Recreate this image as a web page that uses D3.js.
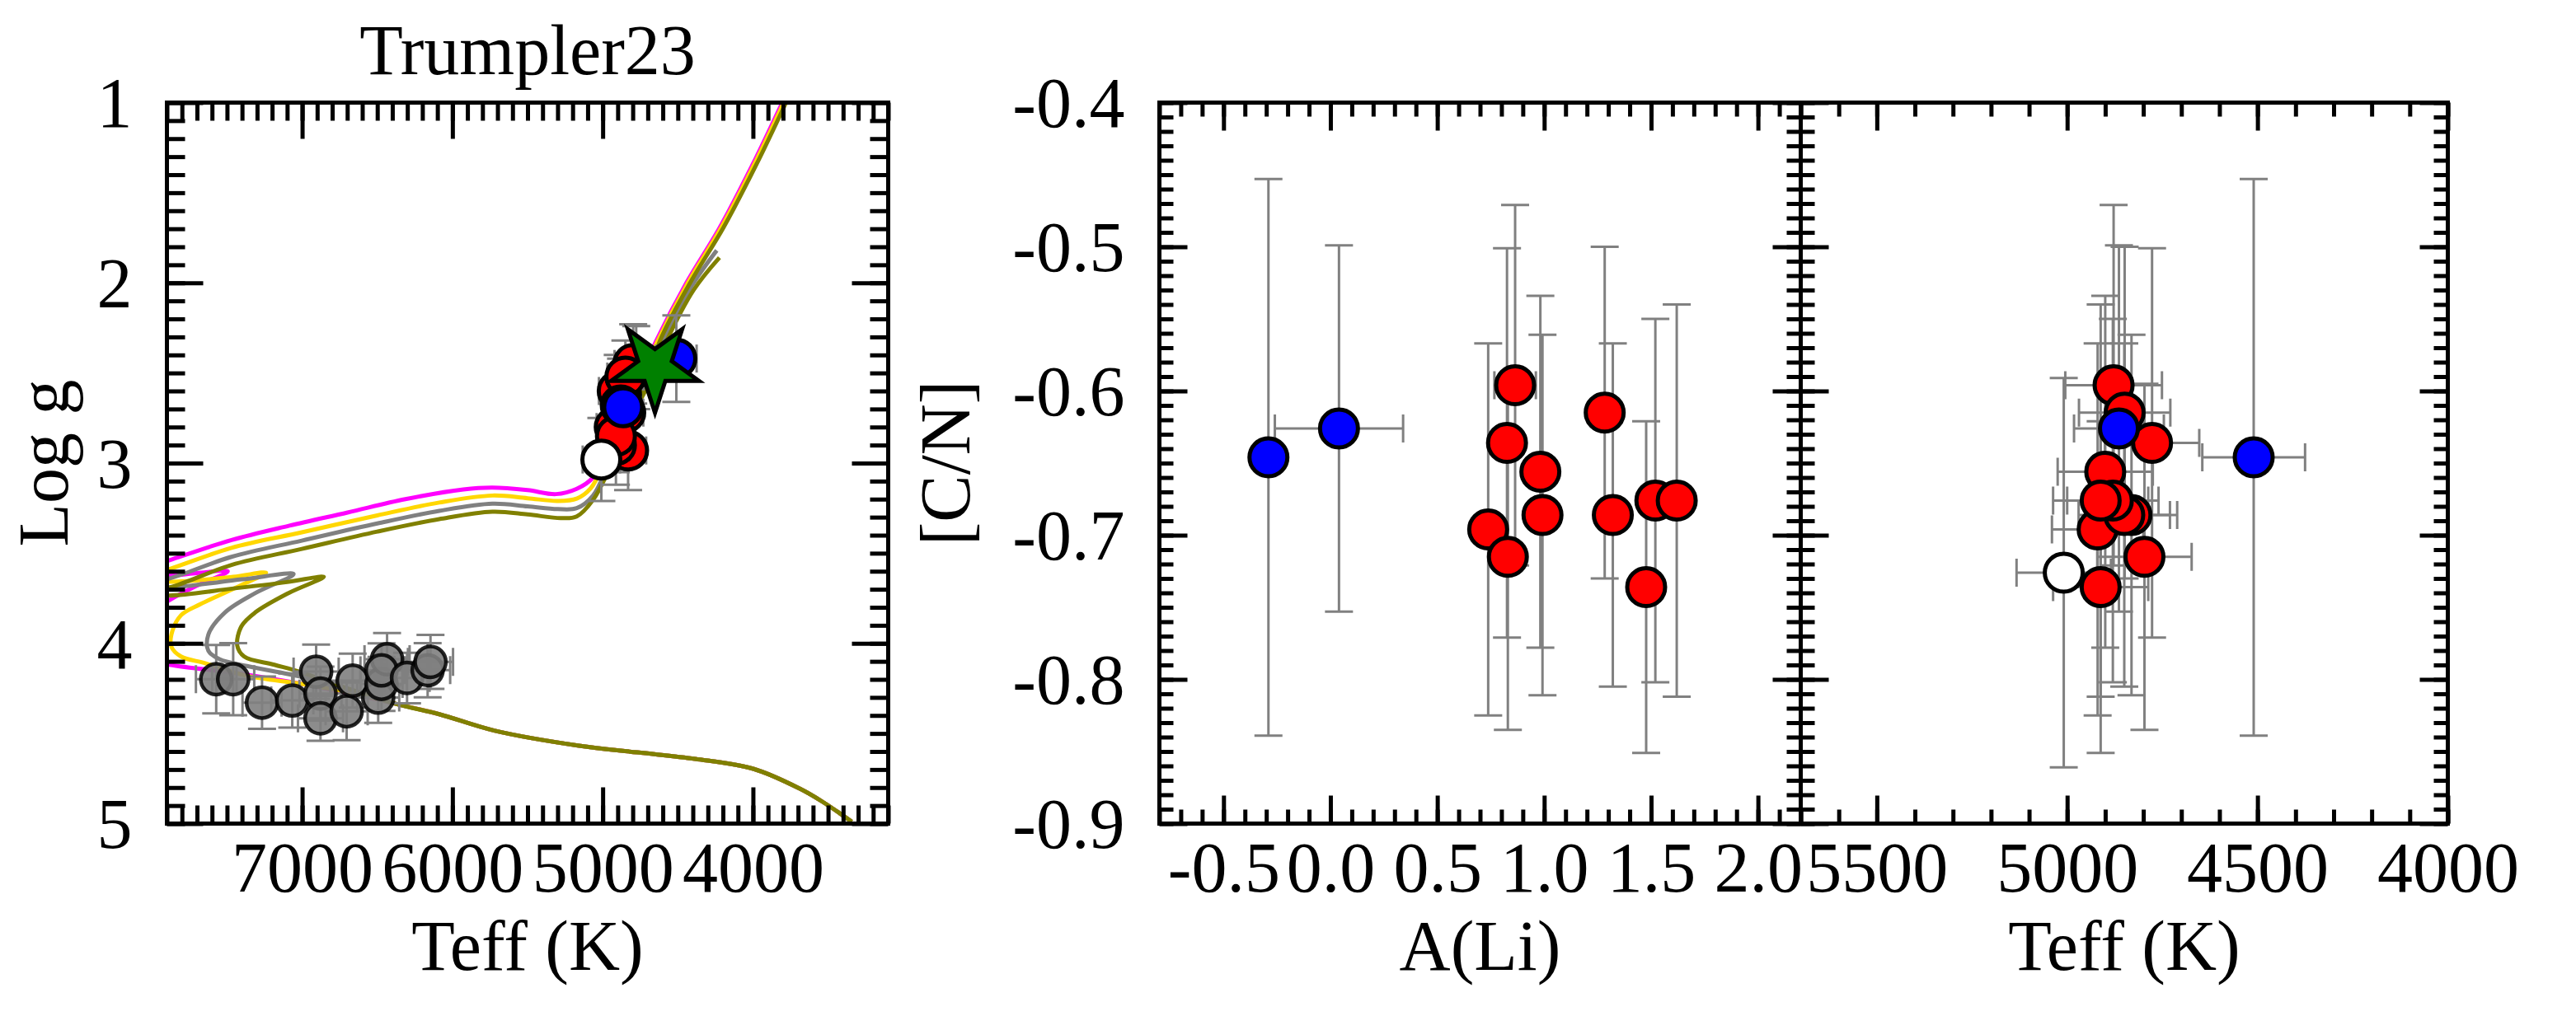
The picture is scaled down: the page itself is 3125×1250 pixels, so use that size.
<!DOCTYPE html>
<html>
<head>
<meta charset="utf-8">
<script src="https://cdn.jsdelivr.net/npm/d3@7"></script>
<style>
body { margin: 0; background: #fff; }
</style>
</head>
<body>
<svg id="chart" width="3125" height="1250"></svg>
<script>
var serif = 'Liberation Serif';

// tick labels
var hrTeffTicks = [7000, 6000, 5000, 4000];
var loggTicks = [1, 2, 3, 4, 5];
var liTicks = [-0.5, 0, 0.5, 1, 1.5, 2];
var cnTicks = [-0.4, -0.5, -0.6, -0.7, -0.8, -0.9];
var cnTeffTicks = [5500, 5000, 4500, 4000];

// giants: blue, red, white (no Li) - same stars in all three panels
var giantType = ['blue','blue','red','red','red','red','red','red','red','red','red','red','red','white'];
var giantALi = [-0.29, 0.04, 0.864, 0.826, 0.982, 0.738, 0.83, 0.992, 1.283, 1.321, 1.477, 1.52, 1.62, null];
var giantALiErr = [0, 0.30, 0.097, 0, 0, 0, 0, 0, 0, 0, 0, 0, 0, 0];
var giantCN = [-0.646, -0.626, -0.596, -0.636, -0.656, -0.696, -0.715, -0.686, -0.615, -0.686, -0.736, -0.676, -0.676, -0.726];
var giantCNErr = [0.193, 0.127, 0.125, 0.135, 0.122, 0.129, 0.12, 0.125, 0.115, 0.119, 0.115, 0.126, 0.136, 0.135];
var giantTeff = [4510, 4864, 4878, 4777, 4900, 4920, 4797, 4831, 4849, 4850, 4912, 4880, 4912, 5009];
var giantTeffErr = [135, 118, 127, 124, 125, 120, 124, 120, 120, 120, 125, 120, 125, 124];
var giantLogg = [2.42, 2.69, 2.62, 2.47, 2.60, 2.80, 2.45, 2.93, 2.52, 2.72, 2.90, 2.68, 2.85, 2.98];
var giantLoggErr = [0.24, 0.2, 0.2, 0.23, 0.2, 0.2, 0.22, 0.22, 0.2, 0.2, 0.22, 0.2, 0.2, 0.23];

// dwarfs (grey)
var dwarfTeff = [7572, 7459, 7267, 7066, 6907, 6878, 6878, 6704, 6664, 6494, 6472, 6435, 6472, 6302, 6165, 6146];
var dwarfTeffErr = [135, 140, 130, 140, 150, 140, 150, 140, 150, 140, 140, 150, 140, 150, 150, 150];
var dwarfLogg = [4.199, 4.199, 4.329, 4.317, 4.157, 4.279, 4.416, 4.377, 4.207, 4.301, 4.225, 4.088, 4.15, 4.192, 4.149, 4.103];
var dwarfLoggErr = [0.19, 0.2, 0.145, 0.15, 0.15, 0.15, 0.125, 0.16, 0.15, 0.14, 0.15, 0.145, 0.15, 0.14, 0.15, 0.15];

// star marker
var starTeff = 4652, starLogg = 2.465;

// isochrones [Teff, logg]
var msShared = [[3342,4.99],[3535,4.88],[3689,4.806],[3998,4.696],[4384,4.641],[4770,4.605],[5157,4.568],[5722,4.484],[6088,4.393],[6362,4.339]];
var isoMagenta = [[6700,4.275],[7002,4.225],[7400,4.17],[7883,4.119],[8100,4.08],[8150,3.9],[7883,3.76],[7700,3.68],[7495,3.60],[7700,3.61],[7883,3.623],[8100,3.6],[7883,3.539],[7470,3.427],[7084,3.347],[6698,3.274],[6313,3.20],[5927,3.146],[5734,3.136],[5500,3.15],[5311,3.172],[5173,3.143],[5064,3.08],[5001,2.98],[4870,2.72],[4750,2.52],[4643,2.32],[4443,2.0],[4223,1.696],[4003,1.345],[3805,1.0],[3750,0.9]];
var isoGold = [[6700,4.27],[7002,4.225],[7367,4.18],[7642,4.111],[7806,4.073],[7870,4.02],[7870,3.951],[7806,3.844],[7678,3.783],[7404,3.677],[7240,3.608],[7459,3.631],[7883,3.658],[8100,3.64],[7883,3.588],[7470,3.47],[7002,3.384],[6500,3.29],[6088,3.219],[5734,3.18],[5500,3.195],[5300,3.21],[5173,3.197],[5080,3.14],[4990,3.0],[4860,2.74],[4740,2.52],[4633,2.32],[4433,2.0],[4213,1.696],[3993,1.345],[3795,1.0],[3740,0.9]];
var isoGray = [[6700,4.26],[7002,4.187],[7368,4.126],[7550,4.088],[7624,4.042],[7624,3.951],[7514,3.829],[7313,3.722],[7057,3.616],[7400,3.645],[7883,3.69],[8100,3.68],[7883,3.64],[7470,3.52],[7002,3.43],[6500,3.335],[6088,3.265],[5734,3.225],[5500,3.24],[5300,3.255],[5173,3.25],[5064,3.18],[4970,3.02],[4840,2.76],[4720,2.55],[4600,2.32],[4410,2.02],[4241,1.82]];
var isoOlive = [[6700,4.25],[7020,4.157],[7185,4.119],[7386,4.073],[7432,4.012],[7404,3.905],[7313,3.829],[7093,3.722],[6856,3.631],[7100,3.66],[7500,3.70],[7883,3.735],[8100,3.72],[7883,3.69],[7470,3.565],[7002,3.476],[6500,3.38],[6088,3.311],[5734,3.27],[5500,3.285],[5280,3.305],[5173,3.296],[5064,3.204],[4960,3.04],[4830,2.78],[4720,2.58],[4618,2.32],[4418,2.0],[4198,1.696],[3978,1.345],[3780,1.0],[3725,0.9]];
var isoOliveShort = [[4960,3.04],[4830,2.78],[4700,2.57],[4585,2.34],[4395,2.04],[4223,1.86]];

var svg = d3.select('#chart');
var yTop = 124.5, yBot = 999.5;

var x1 = d3.scaleLinear().domain([7900, 3100]).range([202.5, 1077.5]);
var y1 = d3.scaleLinear().domain([1, 5]).range([yTop, yBot]);
var x2 = d3.scaleLinear().domain([-0.8, 2.2]).range([1406.5, 2184.5]);
var x3 = d3.scaleLinear().domain([5700, 4000]).range([2184.5, 2969.5]);
var yc = d3.scaleLinear().domain([-0.4, -0.9]).range([yTop, yBot]);

var colorOf = { blue: '#0000ff', red: '#ff0000', white: '#ffffff' };

function frame(xs, ys, xMinor, xMajor, yMinor, yMajor, majLen, minLen, xFmt, yFmt) {
  var xr = xs.range(), yr = ys.range();
  var g = svg.append('g');
  var sides = [
    [d3.axisBottom, xs, 'translate(0,' + yr[1] + ')', xMinor, xMajor, xFmt],
    [d3.axisTop, xs, 'translate(0,' + yr[0] + ')', xMinor, xMajor, null],
    [d3.axisLeft, ys, 'translate(' + xr[0] + ',0)', yMinor, yMajor, yFmt],
    [d3.axisRight, ys, 'translate(' + xr[1] + ',0)', yMinor, yMajor, null]
  ];
  sides.forEach(function (s) {
    var mi = g.append('g').attr('transform', s[2])
      .call(s[0](s[1]).tickValues(s[3]).tickSize(-minLen).tickFormat(''));
    var ma = g.append('g').attr('transform', s[2])
      .call(s[0](s[1]).tickValues(s[4]).tickSize(-majLen).tickPadding(42)
        .tickFormat(s[5] ? s[5] : ''));
    [mi, ma].forEach(function (a) {
      a.select('.domain').remove();
      a.selectAll('line').attr('stroke', '#000').attr('stroke-width', 5);
      a.attr('font-family', null).attr('font-size', 86);
      a.selectAll('text').attr('fill', '#000').style('font-family', serif);
    });
    mi.selectAll('text').remove();
    if (!s[5]) ma.selectAll('text').remove();
    if (s[0] === d3.axisBottom) ma.selectAll('text').attr('y', 82).attr('dy', '0');
    if (s[0] === d3.axisLeft) ma.selectAll('text').attr('dy', '0.34em');
  });
  g.append('rect').attr('x', xr[0]).attr('y', yr[0])
    .attr('width', xr[1] - xr[0]).attr('height', yr[1] - yr[0])
    .attr('fill', 'none').attr('stroke', '#000').attr('stroke-width', 5);
}

function clip(id, xs, ys) {
  svg.append('clipPath').attr('id', id).append('rect')
    .attr('x', xs.range()[0]).attr('y', ys.range()[0])
    .attr('width', xs.range()[1] - xs.range()[0]).attr('height', ys.range()[1] - ys.range()[0]);
  return svg.append('g').attr('clip-path', 'url(#' + id + ')');
}

function errBar(g, xs, ys, x, y, xe, ye) {
  var col = '#808080', w = 3, cap = 17;
  if (ye > 0) {
    g.append('line').attr('x1', xs(x)).attr('x2', xs(x)).attr('y1', ys(y - ye)).attr('y2', ys(y + ye))
      .attr('stroke', col).attr('stroke-width', w);
    [y - ye, y + ye].forEach(function (v) {
      g.append('line').attr('x1', xs(x) - cap).attr('x2', xs(x) + cap).attr('y1', ys(v)).attr('y2', ys(v))
        .attr('stroke', col).attr('stroke-width', w);
    });
  }
  if (xe > 0) {
    g.append('line').attr('x1', xs(x - xe)).attr('x2', xs(x + xe)).attr('y1', ys(y)).attr('y2', ys(y))
      .attr('stroke', col).attr('stroke-width', w);
    [x - xe, x + xe].forEach(function (v) {
      g.append('line').attr('x1', xs(v)).attr('x2', xs(v)).attr('y1', ys(y) - cap).attr('y2', ys(y) + cap)
        .attr('stroke', col).attr('stroke-width', w);
    });
  }
}

var idx = d3.range(giantType.length);
var drawOrder = idx.filter(function (i) { return giantType[i] === 'red'; })
  .concat(idx.filter(function (i) { return giantType[i] === 'blue'; }))
  .concat(idx.filter(function (i) { return giantType[i] === 'white'; }));

// ---------- panel 1: Teff vs log g ----------
var g1 = clip('c1', x1, y1);
var line1 = d3.line().x(function (d) { return x1(d[0]); }).y(function (d) { return y1(d[1]); })
  .curve(d3.curveCatmullRom.alpha(0.5));
var isoList = [isoMagenta, isoGold, isoGray, isoOlive];
var isoColors = ['#ff00ff', '#ffd700', '#808080', '#808000'];
isoList.forEach(function (iso, k) {
  g1.append('path').attr('d', line1(msShared.concat(iso))).attr('fill', 'none')
    .attr('stroke', isoColors[k]).attr('stroke-width', 5);
});
g1.append('path').attr('d', line1(isoOliveShort)).attr('fill', 'none')
  .attr('stroke', '#808000').attr('stroke-width', 5);

dwarfTeff.forEach(function (t, i) { errBar(g1, x1, y1, t, dwarfLogg[i], dwarfTeffErr[i], dwarfLoggErr[i]); });
svg.append('g').selectAll('circle').data(d3.range(dwarfTeff.length)).join('circle')
  .attr('cx', function (i) { return x1(dwarfTeff[i]); })
  .attr('cy', function (i) { return y1(dwarfLogg[i]); })
  .attr('r', 18.7).attr('fill', '#808080').attr('fill-opacity', 0.9)
  .attr('stroke', '#000').attr('stroke-opacity', 0.85).attr('stroke-width', 4.5);

var ge1 = clip('c1b', x1, y1);
idx.forEach(function (i) { errBar(ge1, x1, y1, giantTeff[i], giantLogg[i], giantTeffErr[i], giantLoggErr[i]); });
svg.append('g').selectAll('circle').data(drawOrder).join('circle')
  .attr('cx', function (i) { return x1(giantTeff[i]); })
  .attr('cy', function (i) { return y1(giantLogg[i]); })
  .attr('r', 23).attr('fill', function (i) { return colorOf[giantType[i]]; })
  .attr('stroke', '#000').attr('stroke-width', 5);

svg.append('path')
  .attr('d', d3.symbol(d3.symbolStar).size(56 * 56 / 0.8908130915292852)())
  .attr('transform', 'translate(' + x1(starTeff) + ',' + y1(starLogg) + ') rotate(180)')
  .attr('fill', '#008000').attr('stroke', '#000').attr('stroke-width', 5).attr('stroke-linejoin', 'miter');

frame(x1, y1, d3.range(3100, 7901, 100), hrTeffTicks, d3.range(10, 51).map(function (v) { return v / 10; }), loggTicks,
  44, 22, function (d) { return d; }, function (d) { return d; });

// ---------- panel 2: A(Li) vs [C/N] ----------
var li = idx.filter(function (i) { return giantALi[i] !== null; });
var g2 = clip('c2', x2, yc);
li.forEach(function (i) { errBar(g2, x2, yc, giantALi[i], giantCN[i], giantALiErr[i], giantCNErr[i]); });
svg.append('g').selectAll('circle').data(drawOrder.filter(function (i) { return giantALi[i] !== null; })).join('circle')
  .attr('cx', function (i) { return x2(giantALi[i]); })
  .attr('cy', function (i) { return yc(giantCN[i]); })
  .attr('r', 23).attr('fill', function (i) { return colorOf[giantType[i]]; })
  .attr('stroke', '#000').attr('stroke-width', 5);

var fmt1 = function (d) { return d.toFixed(1); };
frame(x2, yc, d3.range(-8, 23).map(function (v) { return v / 10; }), liTicks,
  d3.range(-90, -39).map(function (v) { return v / 100; }), cnTicks, 34, 17, fmt1, fmt1);

// ---------- panel 3: Teff vs [C/N] ----------
var g3 = clip('c3', x3, yc);
idx.forEach(function (i) { errBar(g3, x3, yc, giantTeff[i], giantCN[i], giantTeffErr[i], giantCNErr[i]); });
svg.append('g').selectAll('circle').data(drawOrder).join('circle')
  .attr('cx', function (i) { return x3(giantTeff[i]); })
  .attr('cy', function (i) { return yc(giantCN[i]); })
  .attr('r', 23).attr('fill', function (i) { return colorOf[giantType[i]]; })
  .attr('stroke', '#000').attr('stroke-width', 5);

frame(x3, yc, d3.range(4000, 5701, 100), cnTeffTicks,
  d3.range(-90, -39).map(function (v) { return v / 100; }), cnTicks, 34, 17, function (d) { return d; }, null);

// ---------- titles ----------
function label(txt, x, y, rot) {
  var g = svg.append('g').attr('transform', 'translate(' + x + ',' + y + ')' + (rot ? ' rotate(-90)' : ''));
  g.append('text').text(txt).attr('x', 0).attr('y', 0).attr('font-size', 86)
    .attr('text-anchor', 'middle').attr('fill', '#000').style('font-family', serif);
}
label('Trumpler23', 640, 90);
label('Teff (K)', 640, 1177);
label('A(Li)', 1795.5, 1177);
label('Teff (K)', 2577, 1177);
label('Log g', 82, 562, true);
label('[C/N]', 1176, 562, true);
</script>
</body>
</html>
